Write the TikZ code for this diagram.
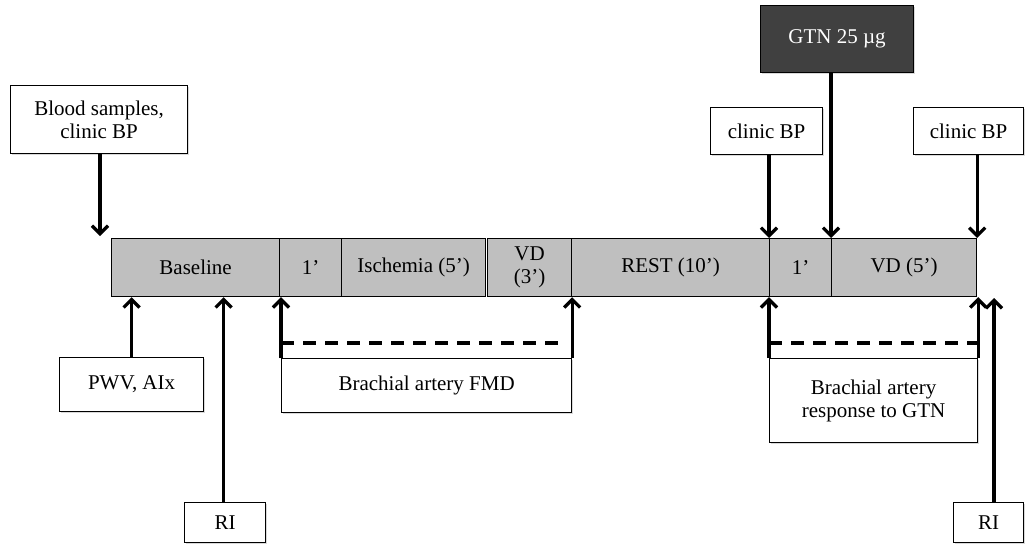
\documentclass[tikz,border=0pt]{standalone}
\usepackage{fontspec}
\setmainfont{Liberation Serif}
\usetikzlibrary{arrows.meta,shadows}
\definecolor{barfill}{RGB}{191,191,191}
\definecolor{gtnfill}{RGB}{64,64,64}
\begin{document}
\begin{tikzpicture}[x=1pt,y=-1pt,
  lbl/.style={font=\fontsize{21}{23}\selectfont},
  box/.style={lbl,draw,line width=1.2pt,fill=white,align=center,inner sep=0pt,anchor=north west,
    drop shadow={shadow xshift=1.5pt,shadow yshift=-1.5pt,opacity=0.3}},
  seg/.style={lbl,draw,line width=1.2pt,fill=barfill,align=center,inner sep=0pt,anchor=north west,minimum height=58pt},
  arr/.style={line width=3.3pt,-{Straight Barb[length=8pt,width=16pt]}},
  dashline/.style={line width=3.3pt,dash pattern=on 13pt off 9pt}]
\useasboundingbox (0,0) rectangle (1025,547);
% timeline segments
\node[seg,minimum width=168pt] (base) at (111,238) {Baseline};
\node[seg,minimum width=62pt]  (oneA) at (279,238) {1’};
\node[seg,minimum width=144pt] (isch) at (341,238) {Ischemia (5’)};
\node[seg,minimum width=84pt]  (vdA)  at (487,238) {VD\\(3’)};
\node[seg,minimum width=198pt] (rest) at (571,238) {REST (10’)};
\node[seg,minimum width=62pt]  (oneB) at (769,238) {1’};
\node[seg,minimum width=145pt] (vdB)  at (831,238) {VD (5’)};
% boxes
\node[box,minimum width=177pt,minimum height=68pt] (blood) at (10,85) {Blood samples,\\clinic BP};
\node[box,minimum width=144pt,minimum height=54pt] (pwv) at (59,357) {PWV, AIx};
\node[box,minimum width=81pt,minimum height=40pt] (riL) at (184,502) {RI};
\node[box,minimum width=290pt,minimum height=54pt] (fmd) at (281,358) {Brachial artery FMD};
\node[box,fill=gtnfill,text=white,minimum width=153pt,minimum height=67pt] (gtn) at (760,5) {GTN 25 µg};
\node[box,minimum width=112pt,minimum height=47pt] (cbpA) at (710,107) {clinic BP};
\node[box,minimum width=110pt,minimum height=47pt] (cbpB) at (913,107) {clinic BP};
\node[box,minimum width=208pt,minimum height=84pt] (resp) at (769,358) {Brachial artery\\response to GTN};
\node[box,minimum width=70pt,minimum height=40pt] (riR) at (953,502) {RI};
% free ends
\coordinate (bloodEnd) at (100,236);
\coordinate (riREnd) at (994,298);
% connectors
\draw[arr] (blood.south -| bloodEnd) -- (bloodEnd);
\draw[arr] (pwv.north) -- (pwv.north |- base.south);
\draw[arr] ([xshift=-1.5pt]riL.north) -- ([xshift=-1.5pt]riL.north |- base.south);
\draw[arr] (fmd.north west) -- (fmd.north west |- oneA.south);
\draw[arr] (fmd.north east) -- (fmd.north east |- vdA.south east);
\draw[dashline] ([yshift=15pt]fmd.north west) -- ([xshift=-13pt,yshift=15pt]fmd.north east);
\draw[arr] (gtn.south -| vdB.north west) -- (vdB.north west);
\draw[arr] (cbpA.south -| oneB.north west) -- (oneB.north west);
\draw[arr] (cbpB.south -| vdB.north east) -- (vdB.north east);
\draw[arr] (resp.north west) -- (resp.north west |- oneB.south);
\draw[arr] (resp.north east) -- (resp.north east |- vdB.south east);
\draw[dashline] ([yshift=15pt]resp.north west) -- ([yshift=15pt]resp.north east);
\draw[arr] (riR.north -| riREnd) -- (riREnd);
\end{tikzpicture}
\end{document}
